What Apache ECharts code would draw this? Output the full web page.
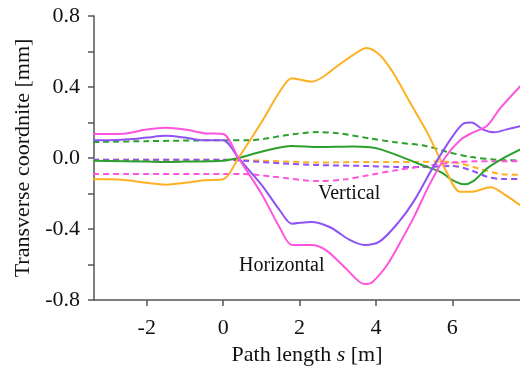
<!DOCTYPE html>
<html><head><meta charset="utf-8">
<script src="https://cdn.jsdelivr.net/npm/echarts@6/dist/echarts.min.js"></script>
<style>html,body{margin:0;padding:0;background:#fff}#c{width:520px;height:372px}</style>
</head><body><div id="c"></div>
<script>
// Path length s [m] and transverse coordinate [mm]
const hMagenta = [[-3.4,0.135],[-3,0.135],[-2.5,0.14],[-2,0.16],[-1.5,0.17],[-1,0.16],[-0.5,0.14],[0,0.135],[0.4,0],[1,-0.2],[1.5,-0.4],[1.8,-0.49],[2.3,-0.49],[2.7,-0.52],[3.2,-0.62],[3.7,-0.71],[3.9,-0.7],[4.3,-0.6],[4.7,-0.45],[5.0,-0.33],[5.4,-0.15],[5.8,0.0],[6.2,0.1],[6.5,0.14],[6.9,0.18],[7.25,0.28],[7.8,0.41]];
const hPurple = [[-3.4,0.1],[-3,0.1],[-2.5,0.105],[-2,0.115],[-1.5,0.125],[-1,0.115],[-0.5,0.1],[0,0.1],[0.4,0],[1,-0.15],[1.5,-0.3],[1.8,-0.37],[2.3,-0.36],[2.8,-0.39],[3.3,-0.46],[3.7,-0.49],[4.1,-0.47],[4.6,-0.36],[5.0,-0.24],[5.5,-0.05],[6.0,0.12],[6.3,0.195],[6.5,0.2],[6.8,0.16],[7.1,0.145],[7.4,0.16],[7.8,0.18]];
const hOrange = [[-3.4,-0.12],[-3,-0.12],[-2.5,-0.125],[-2,-0.14],[-1.5,-0.15],[-1,-0.14],[-0.5,-0.125],[0,-0.12],[0.4,0],[1.0,0.2],[1.5,0.38],[1.8,0.45],[2.3,0.43],[2.6,0.455],[3.0,0.52],[3.4,0.58],[3.75,0.62],[4.1,0.58],[4.45,0.48],[4.9,0.31],[5.35,0.14],[5.85,-0.08],[6.2,-0.19],[6.5,-0.19],[7.0,-0.165],[7.4,-0.21],[7.8,-0.27]];
const hGreen = [[-3.4,-0.015],[-2,-0.02],[-1.5,-0.022],[-1,-0.02],[0,-0.015],[0.4,0],[1.0,0.035],[1.8,0.068],[2.5,0.062],[3.4,0.065],[3.85,0.06],[4.1,0.05],[4.6,0.012],[5.15,-0.035],[5.7,-0.08],[6.0,-0.125],[6.3,-0.148],[6.55,-0.13],[6.9,-0.06],[7.3,-0.005],[7.8,0.05]];
const vGreen = [[-3.4,0.09],[-2,0.095],[0,0.1],[0.7,0.1],[1.7,0.13],[2.5,0.146],[3.0,0.14],[3.85,0.11],[4.45,0.09],[5.3,0.068],[5.85,0.035],[6.5,0.005],[7.2,-0.01],[7.8,-0.015]];
const vOrange = [[-3.4,-0.01],[0,-0.01],[1.0,-0.015],[2.5,-0.025],[3.9,-0.022],[5.0,-0.022],[5.7,-0.02],[6.2,-0.03],[6.7,-0.06],[7.25,-0.09],[7.8,-0.095]];
const vPurple = [[-3.4,-0.01],[0,-0.01],[0.5,-0.015],[1.5,-0.03],[2.5,-0.04],[3.8,-0.045],[4.5,-0.05],[5.3,-0.05],[6.0,-0.045],[6.5,-0.07],[6.9,-0.105],[7.3,-0.118],[7.8,-0.118]];
const vMagenta = [[-3.4,-0.09],[0,-0.09],[0.5,-0.09],[1.3,-0.105],[2.5,-0.13],[3.2,-0.12],[3.85,-0.095],[4.5,-0.07],[5.3,-0.045],[6.2,-0.022],[7.0,-0.018],[7.8,-0.018]];
const yTicks = [-0.8,-0.4,0,0.4,0.8];
const xTicks = [-2,0,2,4,6];

const C = {magenta:'#ff55dd', purple:'#8f52f5', orange:'#ffb020', green:'#2ca02c'};
const serif = '"Liberation Serif","DejaVu Serif",serif';
function line(data,color,dashed){
  return {type:'line',data:data,showSymbol:false,smooth:0.3,
    lineStyle:{color:color,width:2,type:dashed?[6,4]:'solid'},z:dashed?2:3};
}
const chart = echarts.init(document.getElementById('c'),null,{renderer:'canvas'});
chart.setOption({
  backgroundColor:'#fff',
  animation:false,
  grid:{left:94,right:0,top:16,bottom:72,containLabel:false},
  xAxis:{type:'value',min:-3.38,max:7.77,interval:2,
    axisLine:{show:true,onZero:false,lineStyle:{color:'#555',width:1.5}},
    axisTick:{show:true,length:6,inside:false,lineStyle:{color:'#555',width:1.5},
      customValues:xTicks},
    axisLabel:{fontFamily:serif,fontSize:22,color:'#111',margin:17,customValues:xTicks,
      formatter:v=>String(v)},
    splitLine:{show:false},
    name:'{a|Path length }{i|s}{a| [m]}',nameLocation:'middle',nameGap:44,
    nameTextStyle:{rich:{a:{fontFamily:serif,fontSize:22,color:'#111'},i:{fontFamily:serif,fontSize:22,fontStyle:'italic',color:'#111'}}}
  },
  yAxis:{type:'value',min:-0.8,max:0.8,interval:0.4,
    axisLine:{show:true,onZero:false,lineStyle:{color:'#555',width:1.5}},
    axisTick:{show:true,length:6,lineStyle:{color:'#555',width:1.5}},
    minorTick:{show:true,splitNumber:2,length:6,lineStyle:{color:'#555',width:1.5}},
    axisLabel:{fontFamily:serif,fontSize:22,color:'#111',margin:14,
      formatter:v=>v.toFixed(1)},
    splitLine:{show:false},
    name:'Transverse coordnite [mm]',nameLocation:'middle',nameGap:60,nameRotate:90,
    nameTextStyle:{fontFamily:serif,fontSize:22,color:'#111'}
  },
  graphic:[
    {type:'text',left:318,top:184,style:{text:'Vertical',font:'20px '+serif,fill:'#111'}},
    {type:'text',left:239,top:256,style:{text:'Horizontal',font:'20px '+serif,fill:'#111'}}
  ],
  series:[
    line(vGreen,C.green,true),line(vOrange,C.orange,true),line(vPurple,C.purple,true),line(vMagenta,C.magenta,true),
    line(hGreen,C.green,false),line(hOrange,C.orange,false),line(hPurple,C.purple,false),line(hMagenta,C.magenta,false)
  ]
});
</script></body></html>
